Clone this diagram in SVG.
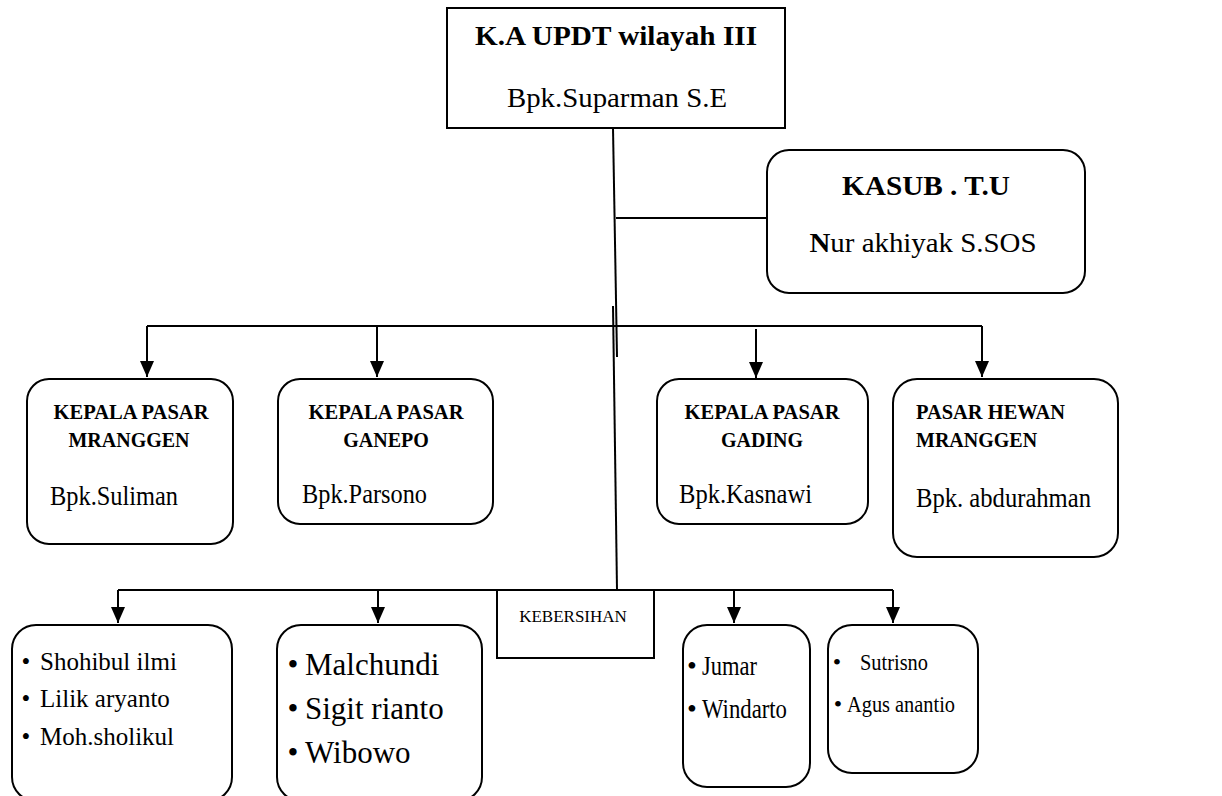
<svg xmlns="http://www.w3.org/2000/svg" width="1222" height="796" viewBox="0 0 1222 796">
<defs>
<style>
.bx{fill:#fff;stroke:#000;stroke-width:2}
.ln{fill:none;stroke:#000;stroke-width:2}
.t{font-family:"Liberation Serif","Times New Roman","DejaVu Serif",serif;fill:#000}
.b{font-weight:bold}
.c{text-anchor:middle}
</style>
<marker id="ah" viewBox="0 0 16 14" refX="16" refY="7" markerWidth="16" markerHeight="14" markerUnits="userSpaceOnUse" orient="auto">
<path d="M0,0 L16,7 L0,14 z" fill="#000"/>
</marker>
</defs>
<rect width="1222" height="796" fill="#fff"/>

<g id="connectors">
<line class="ln" x1="613" y1="128" x2="617" y2="357"/>
<line class="ln" x1="613" y1="306" x2="617" y2="590"/>
<line class="ln" x1="616" y1="218" x2="767" y2="218"/>
<line class="ln" x1="147" y1="326" x2="982" y2="326"/>
<line class="ln" x1="147" y1="326" x2="147" y2="377" marker-end="url(#ah)"/>
<line class="ln" x1="377" y1="326" x2="377" y2="377" marker-end="url(#ah)"/>
<line class="ln" x1="756" y1="329" x2="756" y2="378" marker-end="url(#ah)"/>
<line class="ln" x1="982" y1="326" x2="982" y2="377" marker-end="url(#ah)"/>
<line class="ln" x1="118" y1="590" x2="893" y2="590"/>
<line class="ln" x1="118" y1="590" x2="118" y2="623" marker-end="url(#ah)"/>
<line class="ln" x1="378" y1="590" x2="378" y2="623" marker-end="url(#ah)"/>
<line class="ln" x1="734" y1="590" x2="734" y2="623" marker-end="url(#ah)"/>
<line class="ln" x1="893" y1="590" x2="893" y2="623" marker-end="url(#ah)"/>
</g>

<g id="kepala-updt">
<rect class="bx" x="447" y="8" width="338" height="120"/>
<text class="t b c" x="616" y="45" font-size="27" textLength="282" lengthAdjust="spacingAndGlyphs">K.A UPDT wilayah III</text>
<text class="t c" x="617" y="107" font-size="28" textLength="220" lengthAdjust="spacingAndGlyphs">Bpk.Suparman S.E</text>
</g>

<g id="kasub-tu">
<rect class="bx" x="767" y="150" width="318" height="143" rx="22"/>
<text class="t b c" x="926" y="195" font-size="28" textLength="168" lengthAdjust="spacingAndGlyphs">KASUB . T.U</text>
<text class="t c" x="923" y="252" font-size="28" textLength="227" lengthAdjust="spacingAndGlyphs"><tspan font-weight="bold">N</tspan>ur akhiyak S.SOS</text>
</g>

<g id="pasar-mranggen">
<rect class="bx" x="27" y="379" width="206" height="165" rx="22"/>
<text class="t b c" x="131" y="419" font-size="20" textLength="155" lengthAdjust="spacingAndGlyphs">KEPALA PASAR</text>
<text class="t b c" x="129" y="447" font-size="20">MRANGGEN</text>
<text class="t" x="50" y="505" font-size="28" textLength="128" lengthAdjust="spacingAndGlyphs">Bpk.Suliman</text>
</g>

<g id="pasar-ganepo">
<rect class="bx" x="278" y="379" width="215" height="145" rx="22"/>
<text class="t b c" x="386" y="419" font-size="20" textLength="155" lengthAdjust="spacingAndGlyphs">KEPALA PASAR</text>
<text class="t b c" x="386" y="447" font-size="20">GANEPO</text>
<text class="t" x="302" y="503" font-size="28" textLength="125" lengthAdjust="spacingAndGlyphs">Bpk.Parsono</text>
</g>

<g id="pasar-gading">
<rect class="bx" x="657" y="379" width="211" height="145" rx="22"/>
<text class="t b c" x="762" y="419" font-size="20" textLength="155" lengthAdjust="spacingAndGlyphs">KEPALA PASAR</text>
<text class="t b c" x="762" y="447" font-size="20">GADING</text>
<text class="t" x="679" y="503" font-size="28" textLength="133" lengthAdjust="spacingAndGlyphs">Bpk.Kasnawi</text>
</g>

<g id="pasar-hewan">
<rect class="bx" x="893" y="379" width="225" height="178" rx="24"/>
<text class="t b" x="916" y="419" font-size="20" textLength="149" lengthAdjust="spacingAndGlyphs">PASAR HEWAN</text>
<text class="t b" x="916" y="447" font-size="20">MRANGGEN</text>
<text class="t" x="916" y="507" font-size="28" textLength="175" lengthAdjust="spacingAndGlyphs">Bpk. abdurahman</text>
</g>

<g id="kebersihan">
<rect class="bx" x="497" y="590" width="157" height="68"/>
<text class="t c" x="573" y="622" font-size="17">KEBERSIHAN</text>
</g>

<g id="team-1">
<rect class="bx" x="12" y="625" width="220" height="176" rx="24"/>
<text class="t c" x="26" y="670" font-size="25">•</text>
<text class="t" x="40" y="670" font-size="25">Shohibul ilmi</text>
<text class="t c" x="26" y="707" font-size="25">•</text>
<text class="t" x="40" y="707" font-size="25">Lilik aryanto</text>
<text class="t c" x="26" y="745" font-size="25">•</text>
<text class="t" x="40" y="745" font-size="25">Moh.sholikul</text>
</g>

<g id="team-2">
<rect class="bx" x="277" y="625" width="205" height="176" rx="24"/>
<text class="t c" x="293" y="675" font-size="31">•</text>
<text class="t" x="305" y="675" font-size="31">Malchundi</text>
<text class="t c" x="293" y="719" font-size="31">•</text>
<text class="t" x="305" y="719" font-size="31">Sigit rianto</text>
<text class="t c" x="293" y="763" font-size="31">•</text>
<text class="t" x="305" y="763" font-size="31">Wibowo</text>
</g>

<g id="team-3">
<rect class="bx" x="683" y="625" width="127" height="162" rx="24"/>
<text class="t c" x="692" y="675" font-size="28">•</text>
<text class="t" x="702" y="675" font-size="28" textLength="55" lengthAdjust="spacingAndGlyphs">Jumar</text>
<text class="t c" x="692" y="718" font-size="28">•</text>
<text class="t" x="702" y="718" font-size="28" textLength="85" lengthAdjust="spacingAndGlyphs">Windarto</text>
</g>

<g id="team-4">
<rect class="bx" x="828" y="625" width="150" height="148" rx="24"/>
<text class="t c" x="837" y="670" font-size="24">•</text>
<text class="t" x="860" y="670" font-size="24" textLength="68" lengthAdjust="spacingAndGlyphs">Sutrisno</text>
<text class="t c" x="838" y="712" font-size="24">•</text>
<text class="t" x="847" y="712" font-size="24" textLength="108" lengthAdjust="spacingAndGlyphs">Agus anantio</text>
</g>
</svg>
